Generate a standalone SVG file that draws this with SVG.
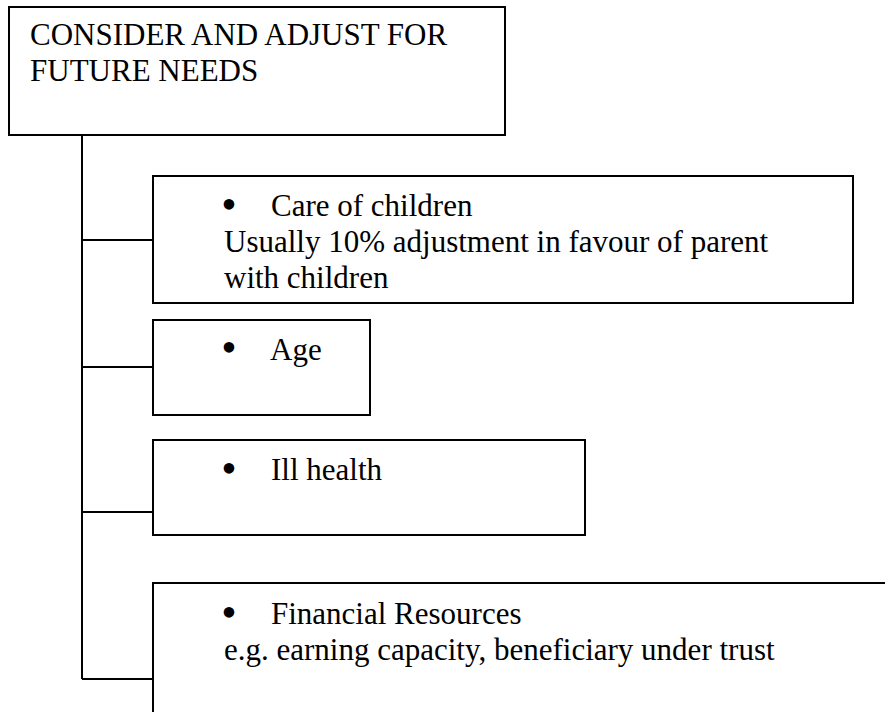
<svg xmlns="http://www.w3.org/2000/svg" width="885" height="712" viewBox="0 0 885 712">
<style>
.box{fill:#fff;stroke:#000;stroke-width:2}
.ln{fill:none;stroke:#000;stroke-width:2}
text{font-family:"Liberation Serif","Times New Roman",serif;font-size:31px;fill:#000}
text.b{font-size:44px;text-anchor:middle}
</style>
<rect width="885" height="712" fill="#fff"/>
<g id="connectors">
<path class="ln" d="M82,135 V679 M82,240 H153 M82,367 H153 M82,512 H153 M82,679 H153"/>
</g>
<g id="root">
<rect class="box" x="9" y="7" width="496" height="128"/>
<text x="30" y="45">CONSIDER AND ADJUST FOR</text>
<text x="30" y="81">FUTURE NEEDS</text>
</g>
<g id="care">
<rect class="box" x="153" y="176" width="700" height="127"/>
<text class="b" x="229" y="219">•</text>
<text x="271" y="216">Care of children</text>
<text x="224" y="252">Usually 10% adjustment in favour of parent</text>
<text x="224" y="288">with children</text>
</g>
<g id="age">
<rect class="box" x="153" y="320" width="217" height="95"/>
<text class="b" x="229" y="362">•</text>
<text x="270" y="360">Age</text>
</g>
<g id="ill">
<rect class="box" x="153" y="440" width="432" height="95"/>
<text class="b" x="229" y="483">•</text>
<text x="271" y="480">Ill health</text>
</g>
<g id="financial">
<path class="ln" d="M885,583 H153 V712"/>
<text class="b" x="229" y="627">•</text>
<text x="271" y="624">Financial Resources</text>
<text x="224" y="660">e.g. earning capacity, beneficiary under trust</text>
</g>
</svg>
